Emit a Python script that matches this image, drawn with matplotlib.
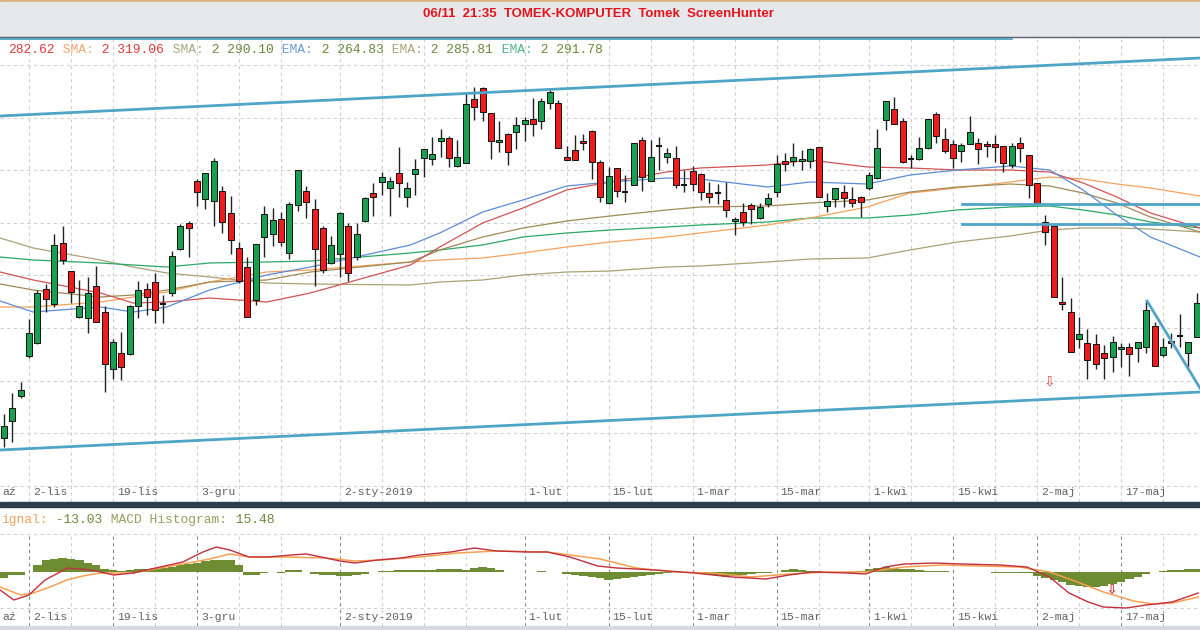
import numpy as np
import matplotlib
matplotlib.use("Agg")
import matplotlib.pyplot as plt
from matplotlib.patches import Rectangle

W, H = 1200, 630

# ---- daily candles, day index 0 = 2-lis-2018 ----
days = np.arange(-3, 140)
opens = [82, 99, 124, 164, 177, 231, 216, 277, 249, 203,
         202, 234, 208, 151, 167, 166, 214, 231, 238, 216,
         227, 271, 297, 339, 321, 319, 329, 307, 272, 253,
         220, 283, 286, 301, 267, 315, 329, 311, 292, 257,
         266, 294, 263, 299, 327, 338, 332, 347, 323, 346,
         362, 361, 379, 382, 354, 357, 421, 432, 407, 378,
         386, 388, 396, 401, 399, 417, 417, 363, 370, 379,
         389, 358, 317, 352, 328, 335, 380, 339, 374, 363,
         362, 335, 349, 346, 327, 327, 320, 299, 308, 315,
         302, 316, 328, 359, 359, 359, 359, 373, 314, 321,
         328, 321, 323, 332, 342, 400, 411, 399, 361, 361,
         372, 406, 381, 376, 369, 376, 377, 376, 376, 374,
         355, 377, 365, 337, 298, 294, 218, 208, 181, 177,
         176, 167, 163, 171, 173, 172, 173, 194, 165, 179,
         184, 167, 183]
highs = [106, 127, 138, 201, 230, 236, 286, 294, 249, 240,
         243, 254, 214, 181, 188, 215, 239, 237, 247, 225,
         269, 296, 299, 341, 347, 362, 334, 324, 278, 263,
         276, 314, 312, 308, 318, 350, 334, 321, 294, 284,
         308, 297, 297, 323, 337, 348, 343, 373, 338, 361,
         371, 383, 391, 384, 380, 428, 433, 433, 407, 399,
         387, 403, 403, 422, 422, 430, 420, 374, 385, 386,
         390, 360, 353, 352, 345, 377, 383, 380, 383, 372,
         374, 350, 354, 347, 338, 336, 338, 303, 317, 317,
         317, 327, 365, 367, 377, 370, 372, 373, 327, 332,
         335, 333, 324, 348, 391, 419, 423, 402, 365, 383,
         401, 408, 392, 380, 377, 404, 382, 379, 385, 374,
         377, 383, 365, 337, 305, 294, 243, 222, 203, 191,
         186, 175, 184, 177, 177, 178, 219, 198, 182, 187,
         206, 178, 227]
lows = [73, 78, 122, 162, 176, 208, 213, 256, 217, 202,
        187, 198, 128, 141, 140, 165, 202, 205, 197, 197,
        224, 270, 263, 314, 311, 294, 287, 266, 237, 203,
        215, 263, 274, 274, 261, 309, 302, 234, 247, 256,
        243, 239, 260, 298, 304, 325, 304, 323, 313, 325,
        343, 355, 363, 353, 353, 357, 400, 399, 361, 368,
        355, 371, 379, 384, 391, 411, 372, 360, 360, 370,
        341, 318, 316, 323, 318, 335, 329, 339, 350, 357,
        332, 328, 329, 320, 317, 316, 303, 285, 294, 296,
        301, 313, 323, 349, 354, 350, 352, 323, 308, 313,
        313, 313, 303, 330, 341, 390, 396, 357, 352, 360,
        371, 377, 367, 352, 358, 376, 356, 363, 358, 348,
        352, 358, 322, 317, 275, 223, 210, 168, 172, 141,
        151, 141, 148, 153, 144, 158, 167, 154, 163, 172,
        173, 152, 183]
closes = [94, 112, 130, 187, 227, 221, 275, 260, 228, 214,
          227, 198, 156, 178, 153, 214, 230, 223, 210, 216,
          264, 294, 292, 328, 347, 359, 298, 280, 239, 203,
          276, 306, 300, 278, 316, 350, 318, 271, 250, 275,
          307, 247, 286, 322, 323, 343, 339, 337, 332, 351,
          371, 366, 382, 362, 363, 416, 413, 408, 379, 380,
          368, 395, 400, 396, 419, 428, 372, 360, 360, 377,
          358, 323, 344, 329, 328, 377, 343, 363, 374, 367,
          335, 335, 336, 328, 323, 327, 310, 301, 298, 311,
          313, 322, 356, 356, 363, 361, 371, 323, 319, 332,
          322, 317, 318, 345, 372, 419, 396, 358, 361, 372,
          401, 384, 369, 362, 375, 388, 371, 374, 373, 357,
          374, 372, 335, 317, 288, 223, 216, 168, 186, 160,
          156, 162, 178, 173, 166, 178, 210, 154, 173, 177,
          184, 178, 217]

# ---- moving averages ----
ma_days = [-3.45, 0.5, 8.5, 12.4, 16.4, 21.5, 28.3, 33.5, 45.4, 48.9, 54, 58.8, 64, 69.2,
           75.9, 79.9, 87.9, 93, 99.8, 104.9, 110.5, 116.8, 121.5, 125.5, 129.5, 133.5, 139.4]
sma_1 = [248, 240, 227, 217, 218, 222, 218, 227, 255, 273, 297, 312, 330, 338,
         348, 352, 355, 360, 353, 352, 350, 350, 348, 337, 323, 307, 292]
sma_2 = [213, 213, 218, 223, 228, 238, 248, 250, 258, 260, 262, 267, 273, 278,
         283, 287, 295, 302, 313, 327, 332, 338, 343, 341, 336, 332, 324]
sma_3 = [282, 272, 260, 253, 247, 243, 237, 236, 235, 238, 240, 245, 248, 249,
         253, 254, 258, 261, 262, 270, 278, 284, 290, 292, 292, 291, 288]
ema_1 = [219, 208, 213, 208, 213, 230, 245, 253, 275, 287, 308, 320, 334, 338,
         342, 341, 333, 338, 336, 345, 350, 354, 350, 330, 305, 283, 263]
ema_2 = [236, 230, 223, 225, 230, 238, 240, 248, 258, 270, 283, 292, 299, 304,
         310, 313, 314, 317, 320, 328, 333, 336, 334, 327, 317, 303, 288]
ema_3 = [263, 260, 257, 255, 253, 257, 258, 259, 267, 270, 275, 283, 287, 290,
         293, 295, 298, 302, 302, 305, 310, 313, 314, 310, 305, 298, 292]

# ---- drawn lines: channel, levels, wedge ----
channel_days = [-3.45, 139.4]
channel_top = [404, 462]
channel_bottom = [70, 128]
level_days = [111.1, 139.4]
levels = [316, 296]
wedge_days = [133.1, 139.4]
wedge_vals = [219, 132]

# ---- MACD ----
macd_days = [-3.45, -1.8, 0, 1.9, 4.6, 7.4, 10.1, 12.4, 15.6, 18.3,
             20.7, 22.3, 23.9, 26.2, 28.5, 31.2, 33, 34.8, 37, 38.8,
             41.5, 44.3, 46.5, 50.2, 53, 55.7, 59.4, 61.7, 64.4, 67.7,
             70, 74.5, 79.2, 83.7, 87.7, 90.5, 93.2, 97.4, 99.6, 101.9,
             104.2, 107.9, 111.1, 115.6, 118.8, 121.5, 123.8, 126.1, 127.9, 130.6,
             133, 136.1, 139.2]
macd_vals = [-9, -14, -11.5, -4, 2, 1, -1.5, -0.5, 2.5, 5,
             10, 12.5, 11, 7.5, 7.5, 8.5, 9, 7.5, 5.5, 4.5,
             6, 7, 8.5, 10, 12, 10.5, 10, 10, 7.5, 3,
             2, 1, -0.5, -2.5, -3.5, -1.5, 0, -0.5, -1, 2.5,
             4, 4.5, 4, 3.5, 2.5, -2.5, -10.5, -15, -17.5, -18,
             -16.5, -15, -10.5]
signal_days = [-3.45, -1, 0.5, 2.5, 4.5, 6.4, 8.5, 12.4, 17, 21.5,
               23.9, 26.2, 30.7, 35.2, 38.8, 42, 46.5, 51, 55.7, 61.7,
               68, 72.3, 76.8, 81.4, 86, 90.5, 95, 99.6, 104.2, 108.7,
               113.3, 117.9, 121.5, 124.8, 127.9, 131.5, 133.8, 136.1, 139.2]
signal_vals = [-7.5, -11.5, -10.5, -7.5, -4, -2, -0.5, -0.5, 3, 6.5,
               9, 7.5, 7.5, 7, 5.5, 6, 7.5, 9.5, 10.5, 10,
               6.5, 2, 0, -0.5, -2.5, -1, 0, 0, 2.5, 3.5,
               3, 2.5, 0, -5, -10, -14.5, -16, -15.5, -12.5]
hist_vals = [-3, -1.5, -1.5, 0, 3.5, 6, 6.5, 7, 6.5, 6,
             4.5, 3.5, 1.5, 1, 0.5, 1, 1.5, 1.5, 2, 2,
             2.5, 3.5, 4, 4.5, 5.5, 6, 6, 6, 3.5, -1.5,
             -1.5, -0.5, 0, -0.5, 1, 1, 0, -1, -1.5, -1.5,
             -2, -2, -1.5, -1, 0, 0.5, 0.5, 1, 1, 1,
             1, 1, 1.5, 1.5, 1.5, 1, 2, 2.5, 2, 1,
             0, 0, 0, 0, 0.5, 0, 0, -1, -1.5, -2,
             -2.5, -3, -4, -3.5, -3, -2.5, -2, -1.5, -1, -0.5,
             0.5, 0, 0, -1, -1.5, -2, -2.5, -2, -1.5, -1,
             -0.5, -0.5, 0, 1, 1.5, 1, 0.5, 0.5, 0, 0,
             0, -0.5, 0.5, 1.5, 2, 2.5, 2, 1.5, 1.5, 1,
             0.5, 0.5, 0.5, 0, 0, 0, 0, 0, -0.5, -0.5,
             -0.5, -0.5, -0.5, -2, -3, -4, -5, -6.5, -7, -7.5,
             -7.5, -7, -6, -5, -3.5, -2.5, -1, 0, 0.5, 1,
             1, 1.5, 1.5]

# ---- axis text ----
grid_days = [0, 5, 10, 15, 20, 25, 30, 37, 42, 47, 52, 59, 64, 69, 74, 79, 84, 89,
             94, 100, 105, 110, 115, 120, 125, 130, 135]
label_days = [0, 10, 20, 37, 59, 69, 79, 89, 100, 110, 120, 130]
label_text = ['2-lis', '19-lis', '3-gru', '2-sty-2019', '1-lut', '15-lut', '1-mar',
              '15-mar', '1-kwi', '15-kwi', '2-maj', '17-maj']
edge_label = 'aź'   # what is left of the October label at the left edge
title = '06/11  21:35  TOMEK-KOMPUTER  Tomek  ScreenHunter'
legend_main = [('282.62', '#e03a3a'), (' SMA:', '#f2a878'), (' 2 319.06', '#e03a3a'),
               (' SMA:', '#aaa880'), (' 2 290.10', '#6b8a3c'), (' EMA:', '#6d9ad8'),
               (' 2 264.83', '#6b8a3c'), (' EMA:', '#b0a378'), (' 2 285.81', '#6b8a3c'),
               (' EMA:', '#4fb888'), (' 2 291.78', '#6b8a3c')]
legend_macd = [('ignal:', '#f0a060'), (' -13.03', '#6b8a3c'),
               (' MACD Histogram:', '#9c9c62'), (' 15.48', '#6b8a3c')]

GREEN, RED = '#17a04f', '#ee1c1c'
TREND = '#4ea5c6'
MONO = 'Liberation Mono'


def fy(px):
    return 1 - px / H


fig = plt.figure(figsize=(W / 100, H / 100), dpi=100)
fig.patch.set_facecolor('white')

# window chrome
fig.add_artist(Rectangle((0, fy(2)), 1, 2 / H, transform=fig.transFigure, color='#dbb27c', zorder=0))
fig.add_artist(Rectangle((0, fy(37)), 1, 35 / H, transform=fig.transFigure, color='#e6e8eb', zorder=0))
fig.add_artist(plt.Line2D([0, 1], [fy(37), fy(37)], transform=fig.transFigure, color='#5d6372', lw=1))
fig.add_artist(plt.Line2D([0, 1012 / W], [fy(38.6), fy(38.6)], transform=fig.transFigure, color=TREND, lw=1.3))
fig.text(598 / W, fy(14), title, color='#e4141c', fontsize=9.5, fontweight='bold',
         family='Liberation Sans', ha='center', va='center')
fig.add_artist(Rectangle((0, fy(507)), 1, 5 / H, transform=fig.transFigure, color='#2e3d4e', zorder=5))
fig.add_artist(Rectangle((0, 0), 1, 4 / H, transform=fig.transFigure, color='#d6dade', zorder=0))

# ---- main price panel ----
ax = fig.add_axes([0, fy(502), 1, 463 / H])
ax.set_xlim(-3.452, 139.405)
ax.set_ylim(18, 481)
ax.set_axis_off()

for g in np.arange(34.2, 470, 52.6):
    ax.axhline(g, color='#cfcfcf', lw=0.8, ls=(0, (3, 3)), zorder=0)
for d in grid_days:
    ax.axvline(d, color='#cfcfcf', lw=0.8, ls=(0, (3, 3)), zorder=0)

ma_styles = [(sma_3, '#aaa274'), (ema_3, '#2aa868'), (sma_2, '#f5a25c'),
             (ema_2, '#a08a55'), (sma_1, '#cf5353'), (ema_1, '#5b8dd6')]
for vals, col in ma_styles:
    ax.plot(ma_days, vals, color=col, lw=0.9, zorder=2)

o = np.array(opens, float)
c = np.array(closes, float)
ax.vlines(days, lows, highs, color='#222222', lw=1.0, zorder=3)
up = c > o
dn = c < o
flat = c == o
ax.bar(days[up], (c - o)[up], bottom=o[up], width=0.72, color=GREEN,
       edgecolor='#111111', linewidth=0.7, zorder=4)
ax.bar(days[dn], (o - c)[dn], bottom=c[dn], width=0.72, color=RED,
       edgecolor='#111111', linewidth=0.7, zorder=4)
ax.hlines(c[flat], days[flat] - 0.36, days[flat] + 0.36, color='#111111', lw=1.4, zorder=4)

ax.plot(channel_days, channel_top, color=TREND, lw=2.0, zorder=5)
ax.plot(channel_days, channel_bottom, color=TREND, lw=2.0, zorder=5)
for lv in levels:
    ax.plot(level_days, [lv, lv], color=TREND, lw=2.0, zorder=5)
ax.plot(wedge_days, wedge_vals, color=TREND, lw=2.0, zorder=5)
ax.text(121.5, 139, '\u21e9', color='#d04848', fontsize=10, ha='center', va='center',
        family='DejaVu Sans', zorder=6)

for d, t in zip(label_days, label_text):
    ax.annotate(t, xy=(d, 0.0216), xycoords=('data', 'axes fraction'), xytext=(2.9, 0),
                textcoords='offset points', ha='left', va='center', fontsize=8.2,
                family=MONO, color='#606060')
ax.text(0.0015, 0.0216, edge_label, transform=ax.transAxes, ha='left', va='center',
        fontsize=8.2, family=MONO, color='#606060')

# legend row of the price panel
cw = 0.6 * 9.4 * 100 / 72
n = 0
for txt, col in legend_main:
    fig.text((8 + n * cw) / W, fy(50), txt, color=col, fontsize=9.4, family=MONO, va='center')
    n += len(txt)

# ---- MACD panel ----
bx = fig.add_axes([0, fy(626), 1, 119 / H])
bx.set_xlim(-3.452, 139.405)
bx.set_ylim(-27, 32.5)
bx.set_axis_off()
for g in [19, -18]:
    bx.axhline(g, color='#cfcfcf', lw=0.8, ls=(0, (3, 3)), zorder=0)
top = (626 - 534) / 119
for d in grid_days:
    col = '#8a8a8a' if d in label_days else '#cfcfcf'
    bx.axvline(d, ymin=0, ymax=top, color=col, lw=0.8, ls=(0, (3, 3)), zorder=0)

bx.bar(days, hist_vals, width=1.0, color='#6e8c32', zorder=2)
bx.plot(signal_days, signal_vals, color='#f5a050', lw=1.1, zorder=3)
bx.plot(macd_days, macd_vals, color='#c0303e', lw=1.0, zorder=4)
bx.text(128.8, -9.5, '\u21e9', color='#c02828', fontsize=9, ha='center', va='center',
        family='DejaVu Sans', zorder=6, fontweight='bold')

for d, t in zip(label_days, label_text):
    bx.annotate(t, xy=(d, 0.0756), xycoords=('data', 'axes fraction'), xytext=(2.9, 0),
                textcoords='offset points', ha='left', va='center', fontsize=8.2,
                family=MONO, color='#606060')
bx.text(0.0015, 0.0756, edge_label, transform=bx.transAxes, ha='left', va='center',
        fontsize=8.2, family=MONO, color='#606060')

n = 0
for txt, col in legend_macd:
    fig.text((1 + n * cw) / W, fy(520), txt, color=col, fontsize=9.4, family=MONO, va='center')
    n += len(txt)

fig.savefig('out.png', dpi=100, facecolor='white')
